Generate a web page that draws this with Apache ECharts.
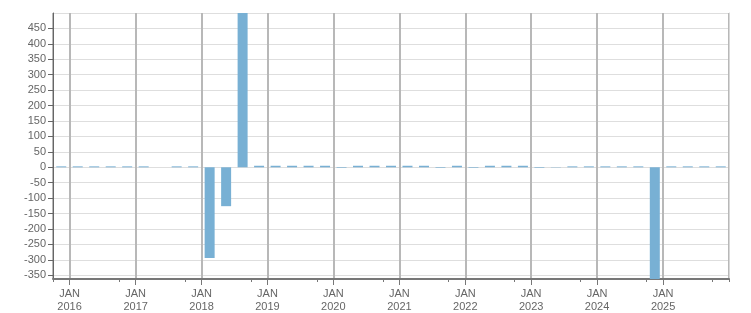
<!DOCTYPE html>
<html>
<head>
<meta charset="utf-8">
<script src="https://cdn.jsdelivr.net/npm/echarts@6/dist/echarts.min.js"></script>
<style>
html,body{margin:0;padding:0;background:#fff;}
#chart{width:751px;height:313px;}
</style>
</head>
<body>
<div id="chart"></div>
<script>
// quarters, 2015 Q4 .. 2025 Q4
var quarters = [
  '2015 Q4',
  '2016 Q1','2016 Q2','2016 Q3','2016 Q4',
  '2017 Q1','2017 Q2','2017 Q3','2017 Q4',
  '2018 Q1','2018 Q2','2018 Q3','2018 Q4',
  '2019 Q1','2019 Q2','2019 Q3','2019 Q4',
  '2020 Q1','2020 Q2','2020 Q3','2020 Q4',
  '2021 Q1','2021 Q2','2021 Q3','2021 Q4',
  '2022 Q1','2022 Q2','2022 Q3','2022 Q4',
  '2023 Q1','2023 Q2','2023 Q3','2023 Q4',
  '2024 Q1','2024 Q2','2024 Q3','2024 Q4',
  '2025 Q1','2025 Q2','2025 Q3','2025 Q4'
];
// quarterly change (Q2 2017 has no value)
var values = [
  3,
  3, 3, 3, 3,
  3, null, 3, 3,
  -294, -126, 560, 5,
  5, 5, 5, 5,
  -2, 5, 5, 5,
  5, 5, -2, 5,
  -2, 5, 5, 5,
  -2, -1, 3, 3,
  3, 3, 3, -420,
  3, 3, 3, 3
];
var yMin = -362, yMax = 500;
// time range covered by the quarters
var xMin = new Date(2015, 9, 1).getTime();
var xMax = new Date(2026, 0, 1).getTime();
var monthNames = ['JAN','FEB','MAR','APR','MAY','JUN','JUL','AUG','SEP','OCT','NOV','DEC'];

var chart = echarts.init(document.getElementById('chart'));

chart.setOption({
  animation: false,
  textStyle: { fontFamily: 'Liberation Sans' },
  grid: { left: 53, right: 22, top: 13, bottom: 32, containLabel: false },
  xAxis: [{
    // date axis: labels, year ticks, year lines
    type: 'time',
    position: 'bottom',
    min: xMin,
    max: xMax,
    splitNumber: 10,
    axisLine: { show: true, onZero: false, lineStyle: { color: '#777', width: 2 } },
    axisTick: { show: true, length: 6, lineStyle: { color: '#777', width: 1 } },
    axisLabel: {
      color: '#666',
      fontSize: 11,
      lineHeight: 13,
      hideOverlap: false,
      showMaxLabel: false,
      formatter: function (val) {
        var d = new Date(val);
        if (d.getMonth() === 0 && d.getDate() === 1 && val < xMax) {
          return monthNames[0] + '\n' + d.getFullYear();
        }
        return '';
      }
    },
    splitLine: { show: true, lineStyle: { color: '#b8b8b8', width: 2 } }
  }, {
    // quarter axis the bars sit on, small ticks at quarter boundaries
    type: 'category',
    position: 'bottom',
    data: quarters,
    boundaryGap: true,
    axisLine: { show: false, onZero: false },
    axisTick: { show: true, length: 3, lineStyle: { color: '#777', width: 1 } },
    axisLabel: { show: false },
    splitLine: { show: false }
  }],
  yAxis: [{
    type: 'value',
    min: yMin,
    max: yMax,
    splitNumber: 17,
    axisLine: { show: true, lineStyle: { color: '#666', width: 1 } },
    axisTick: { show: true, length: 5, lineStyle: { color: '#666' } },
    axisLabel: { color: '#666', fontSize: 11, margin: 7, showMinLabel: false, showMaxLabel: false },
    splitLine: { show: true, lineStyle: { color: '#dedede', width: 1 } }
  }, {
    // right border
    type: 'value',
    position: 'right',
    min: yMin,
    max: yMax,
    axisLine: { show: true, lineStyle: { color: '#d8d8d8', width: 1 } },
    axisTick: { show: false },
    axisLabel: { show: false },
    splitLine: { show: false }
  }],
  series: [{
    type: 'bar',
    xAxisIndex: 1,
    yAxisIndex: 0,
    data: values,
    barWidth: 10,
    clip: true,
    itemStyle: { color: '#78b0d4' }
  }]
});
</script>
</body>
</html>
